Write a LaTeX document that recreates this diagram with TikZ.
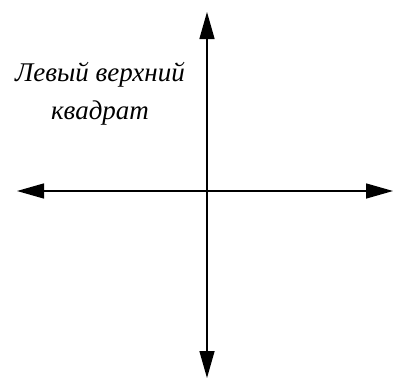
\documentclass[tikz,border=0pt]{standalone}
\usepackage{fontspec}
\setmainfont{Liberation Serif}
\usetikzlibrary{arrows.meta,positioning}

\begin{document}
\begin{tikzpicture}[x=1pt,y=-1pt,
  axis/.style={line width=1.5pt,-{Triangle[length=27pt,width=15pt]}}]
\useasboundingbox (0,0) rectangle (395,380);
\coordinate (O) at (207,191);
\coordinate (L) at (17,191);
\coordinate (R) at (393,191);
\coordinate (T) at (207,12);
\coordinate (B) at (207,378);
\draw[axis] (O)--(L);
\draw[axis] (O)--(R);
\draw[axis] (O)--(T);
\draw[axis] (O)--(B);
\node[align=center,font=\itshape\fontsize{27}{38}\selectfont] (Q) at (100,94) {Левый верхний\\квадрат};
\end{tikzpicture}
\end{document}
